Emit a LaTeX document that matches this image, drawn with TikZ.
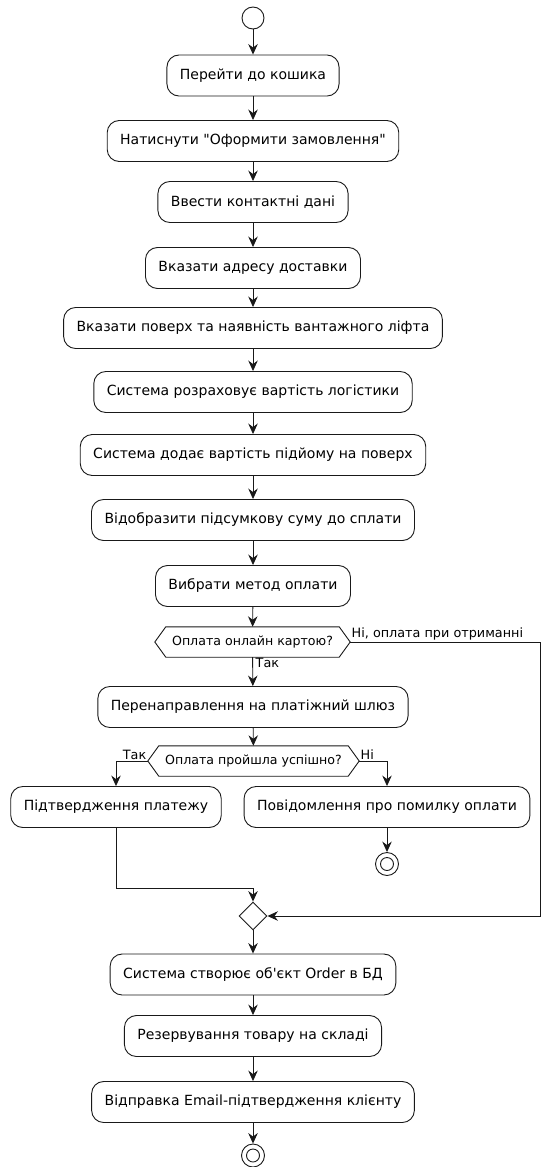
\documentclass[tikz,border=0pt]{standalone}
\usepackage{fontspec}
\setmainfont{DejaVu Sans}[Ligatures=TeXOff]
\usetikzlibrary{arrows.meta,shapes.geometric}

\tikzset{
  ln/.style={draw=black!90, line width=0.9pt},
  arr/.style={ln, -{Stealth[length=10.5pt,width=9.5pt,inset=3.5pt]}},
  act/.style={ln, rectangle, rounded corners=12pt, fill=white, minimum height=41pt,
              inner xsep=13pt, font=\fontsize{14}{16.5}\selectfont},
  decis/.style={inner sep=0pt, minimum height=30pt, font=\fontsize{12.6}{15}\selectfont},
  lbl/.style={inner sep=1.5pt, font=\fontsize{12.8}{15}\selectfont},
  startnode/.style={ln, circle, minimum size=22pt, inner sep=0pt},
  endnode/.style={ln, circle, minimum size=23pt, inner sep=0pt,
    path picture={\draw[line width=0.9pt] (path picture bounding box.center) circle (6.5pt);}},
  merge/.style={ln, diamond, minimum size=28pt, inner sep=0pt}
}

% draws the hexagonal outline of a decision node
\newcommand{\hexframe}[1]{%
  \draw[ln] (#1.west) -- ([xshift=11pt]#1.north west) -- ([xshift=-11pt]#1.north east)
    -- (#1.east) -- ([xshift=-11pt]#1.south east) -- ([xshift=11pt]#1.south west) -- cycle;}

\begin{document}
\begin{tikzpicture}[x=1pt, y=-1pt]
  \useasboundingbox (0,0) rectangle (541,1167);

  \node[startnode] (s) at (253,18) {};
  \node[act] (b1) at (253,75.5) {Перейти до кошика};
  \node[act] (b2) at (253,141) {Натиснути "Оформити замовлення"};
  \node[act] (b3) at (253,202) {Ввести контактні дані};
  \node[act] (b4) at (253,268) {Вказати адресу доставки};
  \node[act] (b5) at (253,328) {Вказати поверх та наявність вантажного ліфта};
  \node[act] (b6) at (253,392) {Система розраховує вартість логістики};
  \node[act] (b7) at (253,455) {Система додає вартість підйому на поверх};
  \node[act] (b8) at (253,520) {Відобразити підсумкову суму до сплати};
  \node[act] (b9) at (253,586) {Вибрати метод оплати};

  \node[decis, minimum width=195pt] (d1) at (252.5,642) {Оплата онлайн картою?};
  \hexframe{d1}

  \node[act] (b10) at (253,707) {Перенаправлення на платіжний шлюз};

  \node[decis, minimum width=211pt] (d2) at (253.5,761) {Оплата пройшла успішно?};
  \hexframe{d2}

  \node[act] (b11) at (116,807) {Підтвердження платежу};
  \node[act] (b12) at (387,807) {Повідомлення про помилку оплати};
  \node[endnode] (e1) at (387,864) {};

  \node[merge] (m) at (253,916) {};
  \node[act] (b13) at (253,974.5) {Система створює об'єкт Order в БД};
  \node[act] (b14) at (253,1036) {Резервування товару на складі};
  \node[act] (b15) at (253,1102) {Відправка Email-підтвердження клієнту};
  \node[endnode] (e2) at (253,1155.5) {};

  % main sequence
  \draw[arr] (s) -- (b1);
  \draw[arr] (b1) -- (b2);
  \draw[arr] (b2) -- (b3);
  \draw[arr] (b3) -- (b4);
  \draw[arr] (b4) -- (b5);
  \draw[arr] (b5) -- (b6);
  \draw[arr] (b6) -- (b7);
  \draw[arr] (b7) -- (b8);
  \draw[arr] (b8) -- (b9);
  \draw[arr] (b9) -- (d1);
  \draw[arr] (d1) -- (b10);
  \draw[arr] (b10) -- (d2);

  % card payment check
  \draw[arr] (d2.west) -| (b11.north);
  \draw[arr] (d2.east) -| (b12.north);
  \draw[arr] (b12) -- (e1);
  \coordinate (j) at (253,888);
  \draw[arr] (b11.south) |- (j) -- (m.north);

  % cash on delivery bypass
  \coordinate (rt) at (540.5,642);
  \coordinate (rb) at (540.5,916);
  \draw[arr] (d1.east) -- (rt) -- (rb) -- (m.east);

  \draw[arr] (m) -- (b13);
  \draw[arr] (b13) -- (b14);
  \draw[arr] (b14) -- (b15);
  \draw[arr] (b15) -- (e2);

  % branch labels
  \node[lbl, anchor=south west] (l1) at (350,642) {Ні, оплата при отриманні};
  \node[lbl, anchor=north west] (l2) at (254,656) {Так};
  \node[lbl, anchor=south east] (l3) at (148,761) {Так};
  \node[lbl, anchor=south west] (l4) at (359,761) {Ні};
\end{tikzpicture}
\end{document}
